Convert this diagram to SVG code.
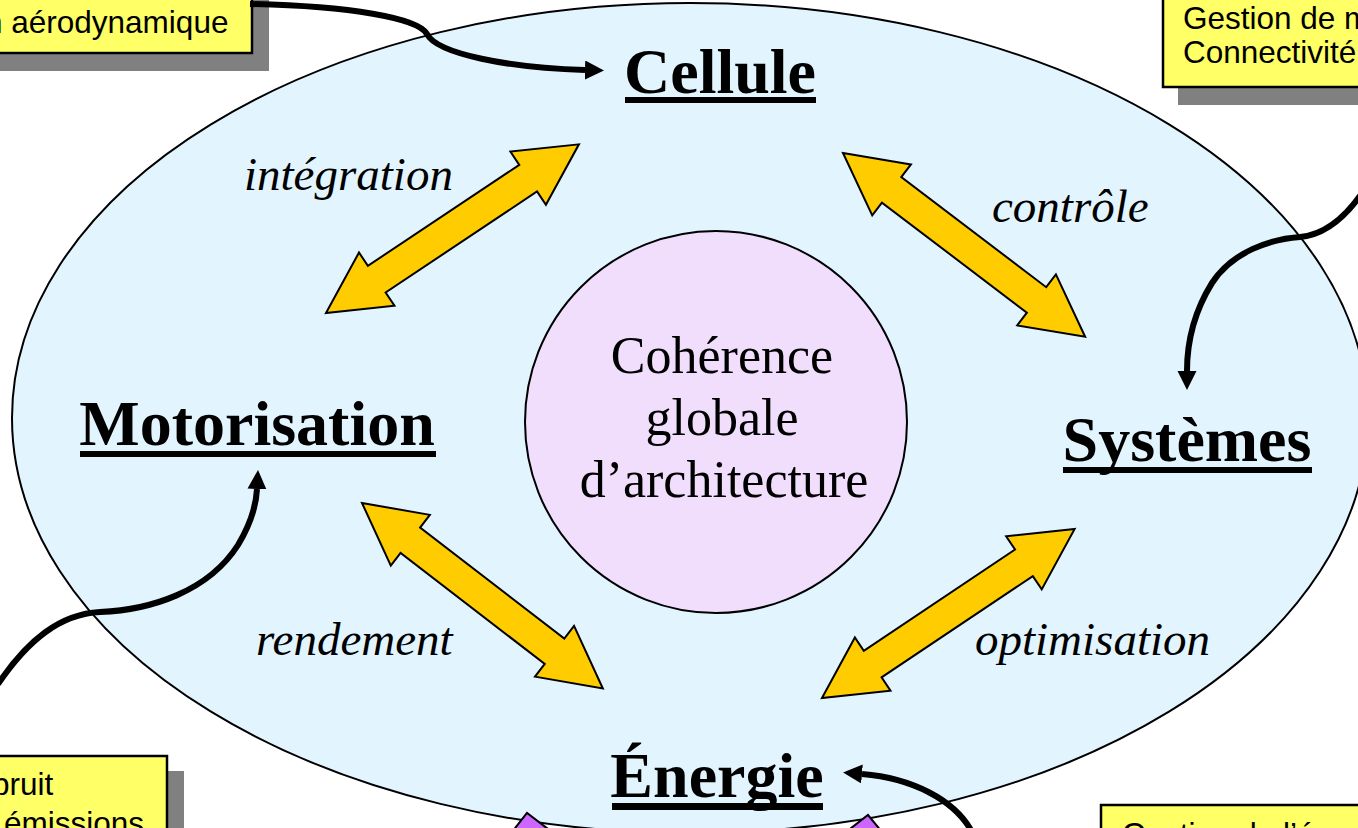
<svg xmlns="http://www.w3.org/2000/svg" width="1358" height="828" viewBox="0 0 1358 828">
  <style>
    .note { fill: #FFFF66; stroke: #000; stroke-width: 2.5; }
    .shadow { fill: #808080; }
    .note-text { font-family: "Liberation Sans", Arial, sans-serif; font-size: 31.5px; fill: #000; }
    .title { font-family: "Liberation Serif", "Times New Roman", serif; font-weight: bold; font-size: 64px; fill: #000; text-anchor: middle; }
    .rel { font-family: "Liberation Serif", "Times New Roman", serif; font-style: italic; font-size: 47px; fill: #000; }
    .core { font-family: "Liberation Serif", "Times New Roman", serif; font-size: 52px; fill: #000; text-anchor: middle; }
    .link { fill: #FFCC00; stroke: #000; stroke-width: 2; stroke-linejoin: miter; }
    .curve { fill: none; stroke: #000; stroke-width: 6; }
    .purple { fill: #CC66FF; stroke: #000; stroke-width: 2; }
  </style>
  <defs>
    <!-- double-headed block arrow, tip to tip along +x -->
    <polygon id="dbl" points="0,0 61,-32 61,-16 243,-16 243,-32 304,0 243,32 243,16 61,16 61,32"/>
    <marker id="head" markerUnits="userSpaceOnUse" markerWidth="20" markerHeight="20" refX="0" refY="9.5" orient="auto">
      <path d="M0,0 L19,9.5 L0,19 z" fill="#000"/>
    </marker>
  </defs>

  <rect width="1358" height="828" fill="#fff"/>

  <!-- domain ellipse -->
  <g id="domain">
    <ellipse cx="690" cy="418" rx="678" ry="415" fill="#E2F4FE" stroke="#000" stroke-width="2"/>
  </g>

  <!-- purple heads below the ellipse -->
  <g id="lower-links">
    <polygon class="purple" points="512,832 527,813 552,832"/>
    <polygon class="purple" points="846,832 868,815 882,832"/>
  </g>

  <!-- central node -->
  <g id="coherence">
    <circle cx="716" cy="422" r="191" fill="#F0DEFC" stroke="#000" stroke-width="2"/>
    <text class="core" x="722" y="373">Cohérence</text>
    <text class="core" x="722" y="435">globale</text>
    <text class="core" x="724" y="497">d’architecture</text>
  </g>

  <g id="cellule">
    <text class="title" x="720" y="93">Cellule</text>
    <rect x="625" y="97" width="191" height="6" fill="#000"/>
  </g>
  <g id="motorisation">
    <text class="title" x="257" y="445">Motorisation</text>
    <rect x="80" y="451" width="356" height="6" fill="#000"/>
  </g>
  <g id="systemes">
    <text class="title" x="1187" y="461">Systèmes</text>
    <rect x="1063" y="467" width="249" height="6" fill="#000"/>
  </g>
  <g id="energie">
    <text class="title" x="717" y="797">Énergie</text>
    <rect x="612" y="803" width="211" height="7" fill="#000"/>
  </g>

  <!-- relations between the four domains -->
  <g id="relations">
    <use href="#dbl" class="link" transform="translate(326,313) rotate(-33.7)"/>
    <use href="#dbl" class="link" transform="translate(843,153) rotate(37.2)"/>
    <use href="#dbl" class="link" transform="translate(362,503) rotate(37.6)"/>
    <use href="#dbl" class="link" transform="translate(822,698) rotate(-33.8)"/>
    <text class="rel" x="244" y="190">intégration</text>
    <text class="rel" x="992" y="222">contrôle</text>
    <text class="rel" x="256" y="655">rendement</text>
    <text class="rel" x="975" y="655">optimisation</text>
  </g>

  <!-- callout notes -->
  <g id="note-aero">
    <rect class="shadow" x="-3" y="-3" width="272" height="74"/>
    <rect class="note" x="-20" y="-20" width="272" height="73"/>
    <text class="note-text" x="-15" y="33">n aérodynamique</text>
  </g>
  <g id="note-mission">
    <rect class="shadow" x="1178" y="-2" width="250" height="107"/>
    <rect class="note" x="1163" y="-20" width="250" height="107"/>
    <text class="note-text" x="1183" y="29">Gestion de m</text>
    <text class="note-text" x="1183" y="63">Connectivité</text>
  </g>
  <g id="note-bruit">
    <rect class="shadow" x="-3" y="771" width="187" height="100"/>
    <rect class="note" x="-20" y="756" width="187" height="100"/>
    <text class="note-text" x="-8" y="795">bruit</text>
    <text class="note-text" x="4" y="834">émissions</text>
  </g>
  <g id="note-energie">
    <rect class="shadow" x="1118" y="822" width="300" height="100"/>
    <rect class="note" x="1101" y="805" width="300" height="100"/>
    <text class="note-text" x="1122" y="845">Gestion de l’énergie</text>
  </g>

  <!-- callout connectors -->
  <g id="connectors">
    <path class="curve" marker-end="url(#head)" d="M250,4 C350,6 418,18 427,34 C437,54 510,68 585,70"/>
    <path class="curve" marker-end="url(#head)" d="M1362,193 C1342,222 1322,235 1300,237 C1270,239 1232,252 1212,283 C1194,312 1187,342 1187,371"/>
    <path class="curve" marker-end="url(#head)" d="M-2,684 C28,640 60,614 100,612 C150,610 208,592 238,545 C250,525 256,508 257,489"/>
    <path class="curve" marker-end="url(#head)" d="M972,832 C955,800 912,778 862,774"/>
  </g>
</svg>
